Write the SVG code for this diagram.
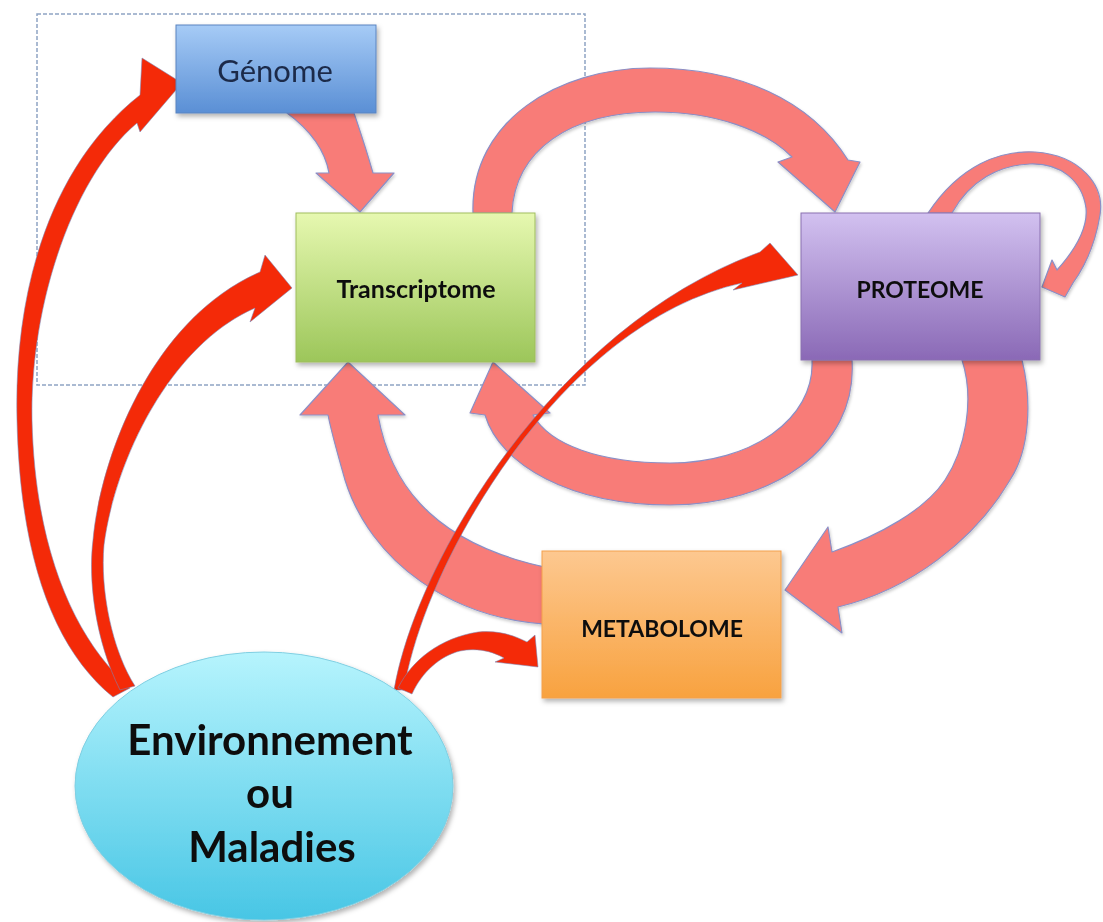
<svg xmlns="http://www.w3.org/2000/svg" width="1103" height="922" viewBox="0 0 1103 922">
<defs>
<linearGradient id="gBlue" x1="0" y1="0" x2="0" y2="1"><stop offset="0" stop-color="#a6cbf6"/><stop offset="1" stop-color="#5a8fd5"/></linearGradient>
<linearGradient id="gGreen" x1="0" y1="0" x2="0" y2="1"><stop offset="0" stop-color="#e6f8b0"/><stop offset="1" stop-color="#9cc65a"/></linearGradient>
<linearGradient id="gPurple" x1="0" y1="0" x2="0" y2="1"><stop offset="0" stop-color="#d2c1f0"/><stop offset="1" stop-color="#8a69b6"/></linearGradient>
<linearGradient id="gOrange" x1="0" y1="0" x2="0" y2="1"><stop offset="0" stop-color="#fdc890"/><stop offset="1" stop-color="#f8a23f"/></linearGradient>
<linearGradient id="gCyan" x1="0" y1="0" x2="0" y2="1"><stop offset="0" stop-color="#b6f4fd"/><stop offset="1" stop-color="#48c6e5"/></linearGradient>
<filter id="sh" x="-10%" y="-10%" width="130%" height="130%"><feDropShadow dx="2" dy="3" stdDeviation="2.5" flood-color="#000" flood-opacity="0.3"/></filter>
<filter id="shs" x="-10%" y="-10%" width="130%" height="130%"><feDropShadow dx="1" dy="2" stdDeviation="1.5" flood-color="#000" flood-opacity="0.2"/></filter>
</defs>
<style>
.pink{fill:#f87c78;stroke:#8b8fc6;stroke-width:1.2;stroke-linejoin:round}
.red{fill:#f42a08;stroke:#7b86b8;stroke-width:0.8;stroke-opacity:0.7;stroke-linejoin:round}
.lbl{font-family:Lato,"Liberation Sans",sans-serif;text-anchor:middle;fill:#111}
.b{font-weight:bold}
</style>
<rect x="37" y="14" width="548" height="371" fill="none" stroke="#8ea4c4" stroke-width="1.5" stroke-dasharray="4 2"/>
<g id="connectors">
<g filter="url(#shs)">
<path id="a-trans-prot" class="pink" d="M473,213 C470,120 560,68 650,68 C740,68 810,100 848,160 L860,162 L835,212 L778,162 L792,157 C765,130 715,112 655,112 C570,112 515,150 512,213 Z"/>
<path id="a-prot-self" class="pink" d="M928,213 C960,165 1000,150 1035,152 C1080,155 1105,185 1100,215 C1096,240 1088,262 1073,283 L1065,297 L1042,287 L1052,260 L1057,270 C1075,250 1088,228 1086,208 C1082,180 1060,163 1030,164 C1000,165 970,180 952,213 Z"/>
<path id="a-prot-trans" class="pink" d="M852,360 C858,450 770,505 670,505 C570,505 500,465 485,415 L470,413 L493,362 L550,413 L533,415 C550,445 600,463 670,463 C750,463 815,420 812,360 Z"/>
<path id="a-prot-meta" class="pink" d="M962,360 L1022,360 C1032,400 1030,450 1010,480 C975,540 910,590 838,607 L842,633 L785,590 L828,527 L832,552 C880,535 925,510 945,480 C965,450 975,400 962,360 Z"/>
<path id="a-meta-trans" class="pink" d="M560,625 C450,622 370,560 345,480 C338,455 332,435 328,415 L300,415 L348,362 L405,415 L378,415 C388,470 420,545 560,570 Z"/>
<path id="a-gen-trans" class="pink" d="M287,113 C310,130 325,150 329,173 L316,173 L360,212 L394,173 L373,173 C365,145 358,125 354,113 Z"/>
</g>
<path id="e-gen" class="red" d="M113,697 C55,650 20,560 17,420 C14,300 45,170 140,95 L142,58 L182,83 L140,132 L137,123 C75,175 30,300 32,420 C35,550 75,640 130,688 Z"/>
<path id="e-trans" class="red" d="M120,690 C95,640 88,580 93,540 C100,460 150,320 260,272 L265,255 L292,288 L250,322 L255,308 C170,345 115,460 104,545 C100,590 112,650 135,686 Z"/>
<path id="e-prot" class="red" d="M394,690 C416,560 556,326 760,252 L770,243 L798,275 L733,290 L742,283 C562,322 424,562 404,690 Z"/>
<path id="e-meta" class="red" d="M398,688 C412,660 440,638 478,632 C500,630 515,636 527,642 L535,635 L538,667 L495,662 L504,658 C490,650 475,648 460,651 C440,656 422,672 412,694 Z"/>
</g>
<g id="genome" filter="url(#sh)">
<rect x="176" y="25" width="200" height="88" fill="url(#gBlue)" stroke="#5a84c0" stroke-width="1"/>
<text class="lbl" x="275" y="82" font-size="31" style="fill:#1c2b4a">Génome</text>
</g>
<g id="transcriptome" filter="url(#sh)">
<rect x="296" y="213" width="239" height="149" fill="url(#gGreen)" stroke="#9fbd5e" stroke-width="1"/>
<text class="lbl b" x="416" y="298" font-size="25">Transcriptome</text>
</g>
<g id="proteome" filter="url(#sh)">
<rect x="801" y="213" width="239" height="147" fill="url(#gPurple)" stroke="#8a70b0" stroke-width="1"/>
<text class="lbl b" x="920" y="298" font-size="23">PROTEOME</text>
</g>
<g id="metabolome" filter="url(#sh)">
<rect x="542" y="551" width="239" height="147" fill="url(#gOrange)" stroke="#f3a04c" stroke-width="1"/>
<text class="lbl b" x="662" y="637" font-size="23">METABOLOME</text>
</g>
<g id="environnement" filter="url(#sh)">
<ellipse cx="264" cy="786" rx="189" ry="134" fill="url(#gCyan)" stroke="#7fcfe2" stroke-width="1"/>
<text class="lbl b" x="270" y="755" font-size="42">Environnement</text>
<text class="lbl b" x="270" y="808" font-size="42">ou</text>
<text class="lbl b" x="272" y="862" font-size="42">Maladies</text>
</g>
</svg>
